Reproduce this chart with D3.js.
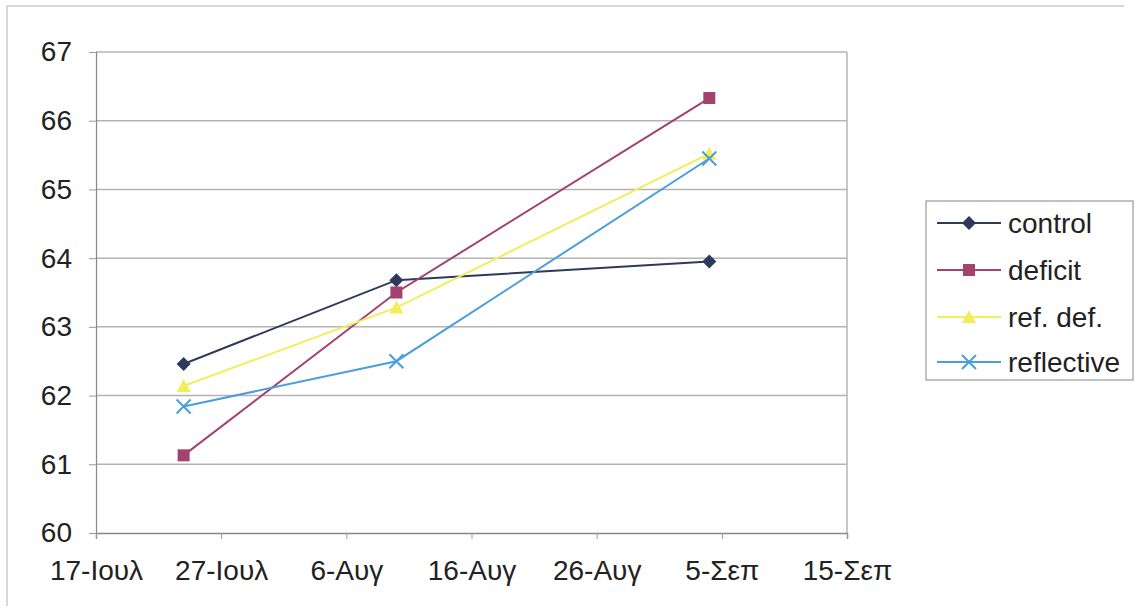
<!DOCTYPE html>
<html><head><meta charset="utf-8">
<script src="https://cdn.jsdelivr.net/npm/d3@7"></script>
<style>body{margin:0;background:#fff}svg{display:block}text{font-family:"Liberation Sans",Arial,sans-serif;fill:#222}</style>
</head><body><svg id="c" width="1136" height="616"></svg>
<script>
const dates = ["2007-07-24","2007-08-10","2007-09-04"];
const seriesNames = ["control","deficit","ref. def.","reflective"];
const control = [62.46, 63.68, 63.95];
const deficit = [61.13, 63.50, 66.33];
const refDef = [62.14, 63.28, 65.52];
const reflective = [61.84, 62.50, 65.45];
const yTicks = [60,61,62,63,64,65,66,67];
const xTickDates = ["2007-07-17","2007-07-27","2007-08-06","2007-08-16","2007-08-26","2007-09-05","2007-09-15"];
const xTickLabels = ["17-Ιουλ","27-Ιουλ","6-Αυγ","16-Αυγ","26-Αυγ","5-Σεπ","15-Σεπ"];
const colors = ["#2E3A5C","#A3426F","#F2EE5A","#4A9FDB"];
const values = [control, deficit, refDef, reflective];
const symbols = ["diamond","square","triangle","cross"];

const parse = d3.utcParse("%Y-%m-%d");
const svg = d3.select("#c");
const L=96, R=847, T=52, B=533;
const FS = 28;
const x = d3.scaleUtc().domain([parse(xTickDates[0]), parse(xTickDates[xTickDates.length-1])]).range([L,R]);
const y = d3.scaleLinear().domain([60,67]).range([B,T]);

// outer border
svg.append("path").attr("d",`M7,606 V6 H1124`).attr("fill","none").attr("stroke","#ccc").attr("stroke-width",1.5);

// gridlines
svg.append("g").selectAll("line").data(yTicks.slice(1)).join("line")
  .attr("x1",L).attr("x2",R).attr("y1",d=>y(d)).attr("y2",d=>y(d))
  .attr("stroke","#b4b4b4").attr("stroke-width",1.5);
// right border of plot
svg.append("line").attr("x1",R).attr("x2",R).attr("y1",T).attr("y2",B).attr("stroke","#b4b4b4").attr("stroke-width",1.5);

// y axis
const ya = svg.append("g").attr("transform",`translate(${L},0)`)
  .call(d3.axisLeft(y).tickValues(yTicks).tickSize(7).tickFormat(d3.format("d")));
ya.select(".domain").attr("stroke","#888").attr("stroke-width",1.2);
ya.selectAll(".tick line").attr("stroke","#999");
ya.selectAll("text").attr("font-size",FS).attr("x",-24).attr("fill","#222").style("font-family","Liberation Sans, Arial, sans-serif");

// x axis
const xa = svg.append("g").attr("transform",`translate(0,${B})`)
  .call(d3.axisBottom(x).tickValues(xTickDates.map(parse)).tickSize(6).tickFormat((d,i)=>xTickLabels[i]));
xa.select(".domain").attr("stroke","#888").attr("stroke-width",1.5);
xa.selectAll(".tick line").attr("stroke","#999");
xa.selectAll("text").attr("font-size",FS).attr("y",27).attr("fill","#222").style("font-family","Liberation Sans, Arial, sans-serif");

function drawMarker(g, sym, col){
  if(sym==="diamond") g.append("path").attr("d","M0,-7 L7,0 L0,7 L-7,0Z").attr("fill",col);
  else if(sym==="square") g.append("rect").attr("x",-6).attr("y",-6).attr("width",12).attr("height",12).attr("fill",col);
  else if(sym==="triangle") g.append("path").attr("d","M0,-7 L7,6 L-7,6Z").attr("fill",col);
  else if(sym==="cross") g.append("path").attr("d","M-7,-7 L7,7 M-7,7 L7,-7").attr("stroke",col).attr("stroke-width",2);
}

const line = d3.line().x(d=>x(d.d)).y(d=>y(d.v));
values.forEach((vals,i)=>{
  const pts = vals.map((v,j)=>({d:parse(dates[j]),v}));
  svg.append("path").datum(pts).attr("d",line).attr("fill","none").attr("stroke",colors[i]).attr("stroke-width",2);
  pts.forEach(p=>{
    const g = svg.append("g").attr("transform",`translate(${x(p.d)},${y(p.v)})`);
    drawMarker(g, symbols[i], colors[i]);
  });
});

// legend
const lg = svg.append("g");
lg.append("rect").attr("x",926).attr("y",201).attr("width",207).attr("height",179).attr("fill","#fff").attr("stroke","#999").attr("stroke-width",1.2);
const ly = [223,270,317,362];
seriesNames.forEach((n,i)=>{
  lg.append("line").attr("x1",937).attr("x2",1001).attr("y1",ly[i]).attr("y2",ly[i]).attr("stroke",colors[i]).attr("stroke-width",2);
  drawMarker(lg.append("g").attr("transform",`translate(969,${ly[i]})`), symbols[i], colors[i]);
  lg.append("text").attr("x",1008).attr("y",ly[i]).attr("dy","0.35em").attr("font-size",FS).text(n);
});
</script></body></html>
